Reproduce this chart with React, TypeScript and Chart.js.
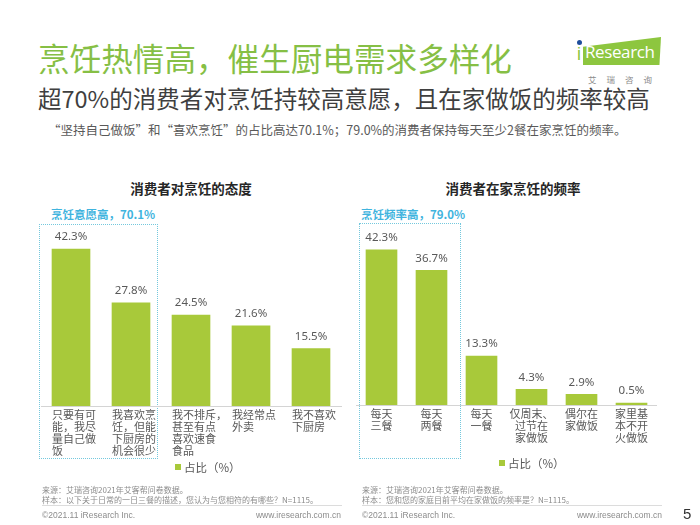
import React, { useEffect, useRef } from "react";
import { Chart, registerables } from "chart.js";

Chart.register(...registerables);

// ---------- data ----------
const attitudeCategories: string[][] = [
  ["只要有可", "能，我尽", "量自己做", "饭"],
  ["我喜欢烹", "饪，但能", "下厨房的", "机会很少"],
  ["我不排斥，", "甚至有点", "喜欢速食", "食品"],
  ["我经常点", "外卖"],
  ["我不喜欢", "下厨房"],
];
const attitudeValues: number[] = [42.3, 27.8, 24.5, 21.6, 15.5];

const frequencyCategories: string[][] = [
  ["每天", "三餐"],
  ["每天", "两餐"],
  ["每天", "一餐"],
  ["仅周末、", "过节在", "家做饭"],
  ["偶尔在", "家做饭"],
  ["家里基", "本不开", "火做饭"],
];
const frequencyValues: number[] = [42.3, 36.7, 13.3, 4.3, 2.9, 0.5];

const seriesLabel = "占比（%）";
const yMin = 0;
const yMax = 50;

// ---------- styles ----------
const CJK = '"Noto Sans CJK SC", "Noto Sans", sans-serif';
const BAR = "#a8c93a";
const GREEN = "#86bf45";
const BLUE = "#3fb4de";
const TEXT = "#595959";

const labelPlugin = {
  id: "barLabels",
  afterDatasetsDraw(chart: any, _args: any, opts: any) {
    const ctx = chart.ctx;
    const meta = chart.getDatasetMeta(0);
    const base = chart.chartArea.bottom;
    ctx.save();
    ctx.fillStyle = TEXT;
    ctx.textBaseline = "middle";
    ctx.textAlign = "center";
    ctx.font = '11.5px "Noto Sans", sans-serif';
    meta.data.forEach((bar: any, i: number) => {
      const v = chart.data.datasets[0].data[i] as number;
      ctx.fillText(v.toFixed(1) + "%", bar.x, bar.y - 12);
    });
    ctx.font = "11px " + CJK;
    ctx.textAlign = opts.align;
    (chart.data.labels as string[][]).forEach((lines, i) => {
      const bar = meta.data[i];
      const tx = opts.align === "left" ? bar.x - bar.width / 2 : bar.x;
      lines.forEach((line, j) => ctx.fillText(line, tx, base + 9 + j * 12));
    });
    ctx.restore();
  },
};

type BarProps = {
  left: number;
  top: number;
  width: number;
  height: number;
  labels: string[][];
  values: number[];
  barThickness: number;
  padLeft: number;
  padRight: number;
  padTop: number;
  axisHeight: number;
  align: "left" | "center";
};

function BarChart(p: BarProps) {
  const ref = useRef<HTMLCanvasElement>(null);
  useEffect(() => {
    if (!ref.current) return;
    const chart = new Chart(ref.current, {
      type: "bar",
      data: {
        labels: p.labels as any,
        datasets: [
          {
            label: seriesLabel,
            data: p.values,
            backgroundColor: BAR,
            barThickness: p.barThickness,
          },
        ],
      },
      options: {
        animation: false,
        responsive: false,
        maintainAspectRatio: false,
        layout: { padding: { left: p.padLeft, right: p.padRight, top: p.padTop, bottom: 0 } },
        plugins: {
          legend: { display: false },
          tooltip: { enabled: false },
          barLabels: { align: p.align },
        } as any,
        scales: {
          x: {
            grid: { display: false, drawTicks: false },
            border: { display: true, color: "#d4d4d4", width: 1 },
            ticks: { display: false },
            afterFit: (s: any) => {
              s.height = p.axisHeight;
            },
          } as any,
          y: { display: false, min: yMin, max: yMax },
        },
      },
      plugins: [labelPlugin],
    });
    return () => chart.destroy();
  }, []);
  return (
    <canvas
      ref={ref}
      width={p.width}
      height={p.height}
      style={{ position: "absolute", left: p.left, top: p.top, width: p.width, height: p.height }}
    />
  );
}

function Txt(props: {
  x: number;
  y: number;
  size: number;
  color?: string;
  bold?: boolean;
  align?: "left" | "right" | "center";
  font?: string;
  children: React.ReactNode;
  spacing?: number;
}) {
  const h = Math.round(props.size * 1.4);
  const align = props.align || "left";
  const style: React.CSSProperties = {
    position: "absolute",
    top: props.y - h / 2,
    height: h,
    lineHeight: h + "px",
    fontSize: props.size,
    fontFamily: props.font || CJK,
    fontWeight: props.bold ? 700 : 400,
    color: props.color || TEXT,
    whiteSpace: "nowrap",
    letterSpacing: props.spacing || 0,
  };
  if (align === "left") style.left = props.x;
  else if (align === "right") style.right = 700 - props.x;
  else {
    style.left = props.x - 300;
    style.width = 600;
    style.textAlign = "center";
  }
  return <div style={style}>{props.children}</div>;
}

function Legend({ x, y }: { x: number; y: number }) {
  return (
    <div style={{ position: "absolute", left: x, top: y - 8, height: 16, display: "flex", alignItems: "center" }}>
      <div style={{ width: 6, height: 6, background: BAR, marginRight: 3 }} />
      <span style={{ fontSize: 11.5, fontFamily: CJK, color: TEXT, lineHeight: "16px" }}>{seriesLabel}</span>
    </div>
  );
}

function Box({ l, t, r, b }: { l: number; t: number; r: number; b: number }) {
  return (
    <div
      style={{
        position: "absolute",
        left: l,
        top: t,
        width: r - l,
        height: b - t,
        border: "1px dotted #74c8dd",
        boxSizing: "border-box",
      }}
    />
  );
}

export default function App() {
  return (
    <div
      style={{
        position: "absolute",
        left: 0,
        top: 0,
        width: 700,
        height: 525,
        background: "#ffffff",
        overflow: "hidden",
      }}
    >
      {/* header */}
      <Txt x={38} y={57} size={31.6} color={GREEN}>烹饪热情高，催生厨电需求多样化</Txt>
      <Txt x={38} y={98} size={23.5} color="#3f3f3f">超70%的消费者对烹饪持较高意愿，且在家做饭的频率较高</Txt>
      <Txt x={48} y={130} size={12.5} color={TEXT}>
        “坚持自己做饭”和“喜欢烹饪”的占比高达70.1%；79.0%的消费者保持每天至少2餐在家烹饪的频率。
      </Txt>

      {/* logo */}
      <div
        style={{
          position: "absolute",
          left: 583,
          top: 37,
          width: 78,
          height: 28,
          background: "#8dc63f",
          clipPath: "polygon(0 35%, 100% 0, 98% 100%, 0 100%)",
        }}
      />
      <div style={{ position: "absolute", left: 577, top: 40, width: 5, height: 5, borderRadius: 3, background: "#1f4e9c" }} />
      <Txt x={577} y={54} size={18} color="#8dc63f" font='"Liberation Sans", sans-serif'>i</Txt>
      <Txt x={585} y={52} size={17} color="#ffffff" font='"Open Sans", sans-serif' spacing={-0.4}>Research</Txt>
      <Txt x={588} y={79} size={8.5} color="#8c8c8c" spacing={10}>艾瑞咨询</Txt>

      {/* left chart */}
      <Txt x={191} y={188} size={13.5} bold color="#262626" align="center">消费者对烹饪的态度</Txt>
      <Txt x={51} y={214} size={11.5} bold color={BLUE}>烹饪意愿高，70.1%</Txt>
      <Box l={39} t={224} r={158} b={459} />
      <BarChart
        left={20}
        top={200}
        width={330}
        height={280}
        labels={attitudeCategories}
        values={attitudeValues}
        barThickness={38}
        padLeft={21}
        padRight={9}
        padTop={20.5}
        axisHeight={74}
        align="left"
      />
      <Legend x={175} y={467} />

      {/* right chart */}
      <Txt x={513} y={188} size={13.5} bold color="#262626" align="center">消费者在家烹饪的频率</Txt>
      <Txt x={361} y={214} size={11.5} bold color={BLUE}>烹饪频率高，79.0%</Txt>
      <Box l={359} t={223} r={461} b={459} />
      <BarChart
        left={350}
        top={200}
        width={340}
        height={280}
        labels={frequencyCategories}
        values={frequencyValues}
        barThickness={31}
        padLeft={6.5}
        padRight={33.5}
        padTop={21.5}
        axisHeight={75}
        align="center"
      />
      <Legend x={499} y={463} />

      {/* footers */}
      <Txt x={42} y={489} size={8} color="#8c8c8c">来源：艾瑞咨询2021年艾客帮问卷数据。</Txt>
      <Txt x={42} y={499} size={8} color="#8c8c8c">样本：以下关于日常的一日三餐的描述，您认为与您相符的有哪些？N=1115。</Txt>
      <div style={{ position: "absolute", left: 42, top: 505, width: 300, height: 1, background: "#dcdcdc" }} />
      <Txt x={42} y={515} size={8.5} color="#8c8c8c" font='"Liberation Sans", sans-serif'>©2021.11 iResearch Inc.</Txt>
      <Txt x={341} y={515} size={8.5} color="#8c8c8c" align="right" font='"Liberation Sans", sans-serif'>www.iresearch.com.cn</Txt>

      <Txt x={362} y={489} size={8} color="#8c8c8c">来源：艾瑞咨询2021年艾客帮问卷数据。</Txt>
      <Txt x={362} y={499} size={8} color="#8c8c8c">样本：您和您的家庭目前平均在家做饭的频率是？N=1115。</Txt>
      <div style={{ position: "absolute", left: 362, top: 505, width: 300, height: 1, background: "#dcdcdc" }} />
      <Txt x={362} y={515} size={8.5} color="#8c8c8c" font='"Liberation Sans", sans-serif'>©2021.11 iResearch Inc.</Txt>
      <Txt x={662} y={515} size={8.5} color="#8c8c8c" align="right" font='"Liberation Sans", sans-serif'>www.iresearch.com.cn</Txt>
      <Txt x={683} y={513} size={15} color="#333333" font='"Liberation Sans", sans-serif'>5</Txt>
    </div>
  );
}
